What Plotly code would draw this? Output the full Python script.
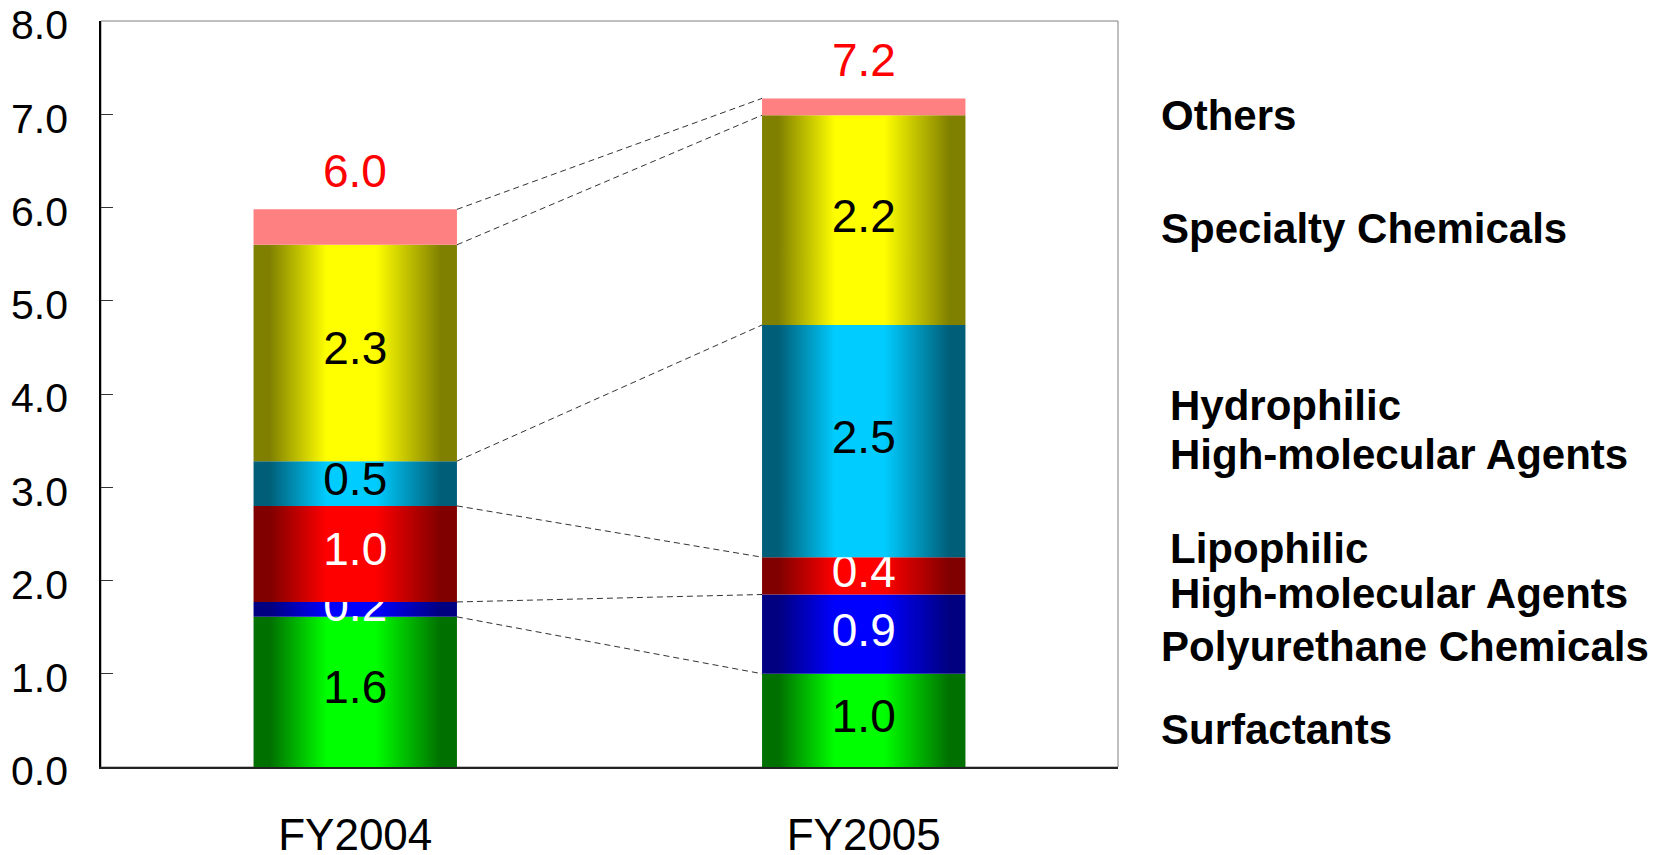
import plotly.graph_objects as go

# ---------------- data ----------------
years = ["FY2004", "FY2005"]
segments = ["Surfactants", "Polyurethane Chemicals", "Lipophilic High-molecular Agents",
            "Hydrophilic High-molecular Agents", "Specialty Chemicals", "Others"]
fy2004 = [1.61, 0.16, 1.03, 0.48, 2.32, 0.38]
fy2005 = [1.00, 0.85, 0.40, 2.49, 2.25, 0.18]
labels_2004 = ["1.6", "0.2", "1.0", "0.5", "2.3", ""]
labels_2005 = ["1.0", "0.9", "0.4", "2.5", "2.2", ""]
y_tick_vals = [0, 1, 2, 3, 4, 5, 6, 7, 8]

# ---------------- style ----------------
edge_colors = ["rgb(0,112,0)", "rgb(0,0,128)", "rgb(128,0,0)", "rgb(0,94,120)", "rgb(128,128,0)", "rgb(255,128,128)"]
mid_colors = ["rgb(0,255,0)", "rgb(0,0,255)", "rgb(255,0,0)", "rgb(0,204,255)", "rgb(255,255,0)", "rgb(255,128,128)"]
text_colors = ["black", "white", "white", "black", "black", "black"]
NARROW = "Liberation Sans Narrow, Arial Narrow, Liberation Sans, Arial, sans-serif"
BOLD = "Liberation Sans, Arial, sans-serif"
BAR_W = 0.4

fig = go.Figure()
series = [fy2004, fy2005]
labels = [labels_2004, labels_2005]
tops = []
for xi, (vals, labs) in enumerate(zip(series, labels)):
    base = 0.0
    t = []
    for i, v in enumerate(vals):
        x0, x1 = xi - BAR_W / 2, xi + BAR_W / 2
        y0, y1 = base, base + v
        fig.add_trace(go.Scatter(
            x=[x0, x1, x1, x0, x0], y=[y0, y0, y1, y1, y0],
            mode="lines", line=dict(width=0), fill="toself",
            fillcolor=mid_colors[i],
            fillgradient=dict(type="horizontal", start=x0, stop=x1,
                              colorscale=[[0, edge_colors[i]], [0.08, edge_colors[i]],
                                          [0.36, mid_colors[i]], [0.6, mid_colors[i]],
                                          [0.92, edge_colors[i]], [1, edge_colors[i]]]),
            name=segments[i], showlegend=False, hoverinfo="skip"))
        if labs[i]:
            fig.add_trace(go.Scatter(
                x=[xi], y=[(y0 + y1) / 2], mode="text", text=[labs[i]],
                textfont=dict(family=NARROW, size=46, color=text_colors[i]),
                showlegend=False, hoverinfo="skip"))
        base = y1
        t.append(y1)
    tops.append(t)
    fig.add_annotation(x=xi, y=base, yref="y", xref="x", text=f"{base:.1f}",
                       showarrow=False, yshift=38, yanchor="middle",
                       font=dict(family=NARROW, size=46, color="red"))

# connector dashed lines
for i in range(len(segments)):
    fig.add_trace(go.Scatter(
        x=[0 + BAR_W / 2, 1 - BAR_W / 2], y=[tops[0][i], tops[1][i]],
        mode="lines", line=dict(color="#333333", width=1, dash="6px,4px"),
        showlegend=False, hoverinfo="skip"))

# right-side segment labels (x in paper units, y in data units)
side_labels = [
    ("Others", 1.040, 6.99),
    ("Specialty Chemicals", 1.040, 5.78),
    ("Hydrophilic", 1.049, 3.88),
    ("High-molecular Agents", 1.049, 3.35),
    ("Lipophilic", 1.049, 2.34),
    ("High-molecular Agents", 1.049, 1.86),
    ("Polyurethane Chemicals", 1.040, 1.29),
    ("Surfactants", 1.040, 0.40),
]
for txt, x, y in side_labels:
    fig.add_annotation(x=x, y=y, xref="paper", yref="y", text=f"<b>{txt}</b>",
                       showarrow=False, xanchor="left", yanchor="middle",
                       font=dict(family=BOLD, size=42, color="black"))

fig.add_shape(type="rect", xref="paper", yref="paper", x0=0, x1=1, y0=0, y1=1,
              line=dict(color="#808080", width=1), layer="below")

# the page body adds an 8px offset, so the figure is 8px smaller with tighter left/top margins
fig.update_layout(
    width=1662, height=847,
    margin=dict(l=93, r=552, t=13, b=88, autoexpand=False),
    plot_bgcolor="white", paper_bgcolor="white",
    showlegend=False,
    xaxis=dict(range=[-0.5, 1.5], tickvals=[0, 1], ticktext=years, automargin=False,
               showgrid=False, zeroline=False, showline=True, linecolor="#222222", linewidth=2,
               ticks="", ticklabelstandoff=28, ticklabeloverflow="allow",
               tickfont=dict(family=NARROW, size=44, color="black"), fixedrange=True),
    yaxis=dict(range=[0, 8], tickvals=y_tick_vals, tickformat=".1f", automargin=False,
               showgrid=False, zeroline=False, showline=True, linecolor="black", linewidth=1.5,
               ticks="inside", ticklen=12, tickcolor="#333333", ticklabelstandoff=23,
               ticklabelshift=4, ticklabeloverflow="allow",
               tickfont=dict(family=NARROW, size=41, color="black"), fixedrange=True),
)

fig.write_html("out.html")
